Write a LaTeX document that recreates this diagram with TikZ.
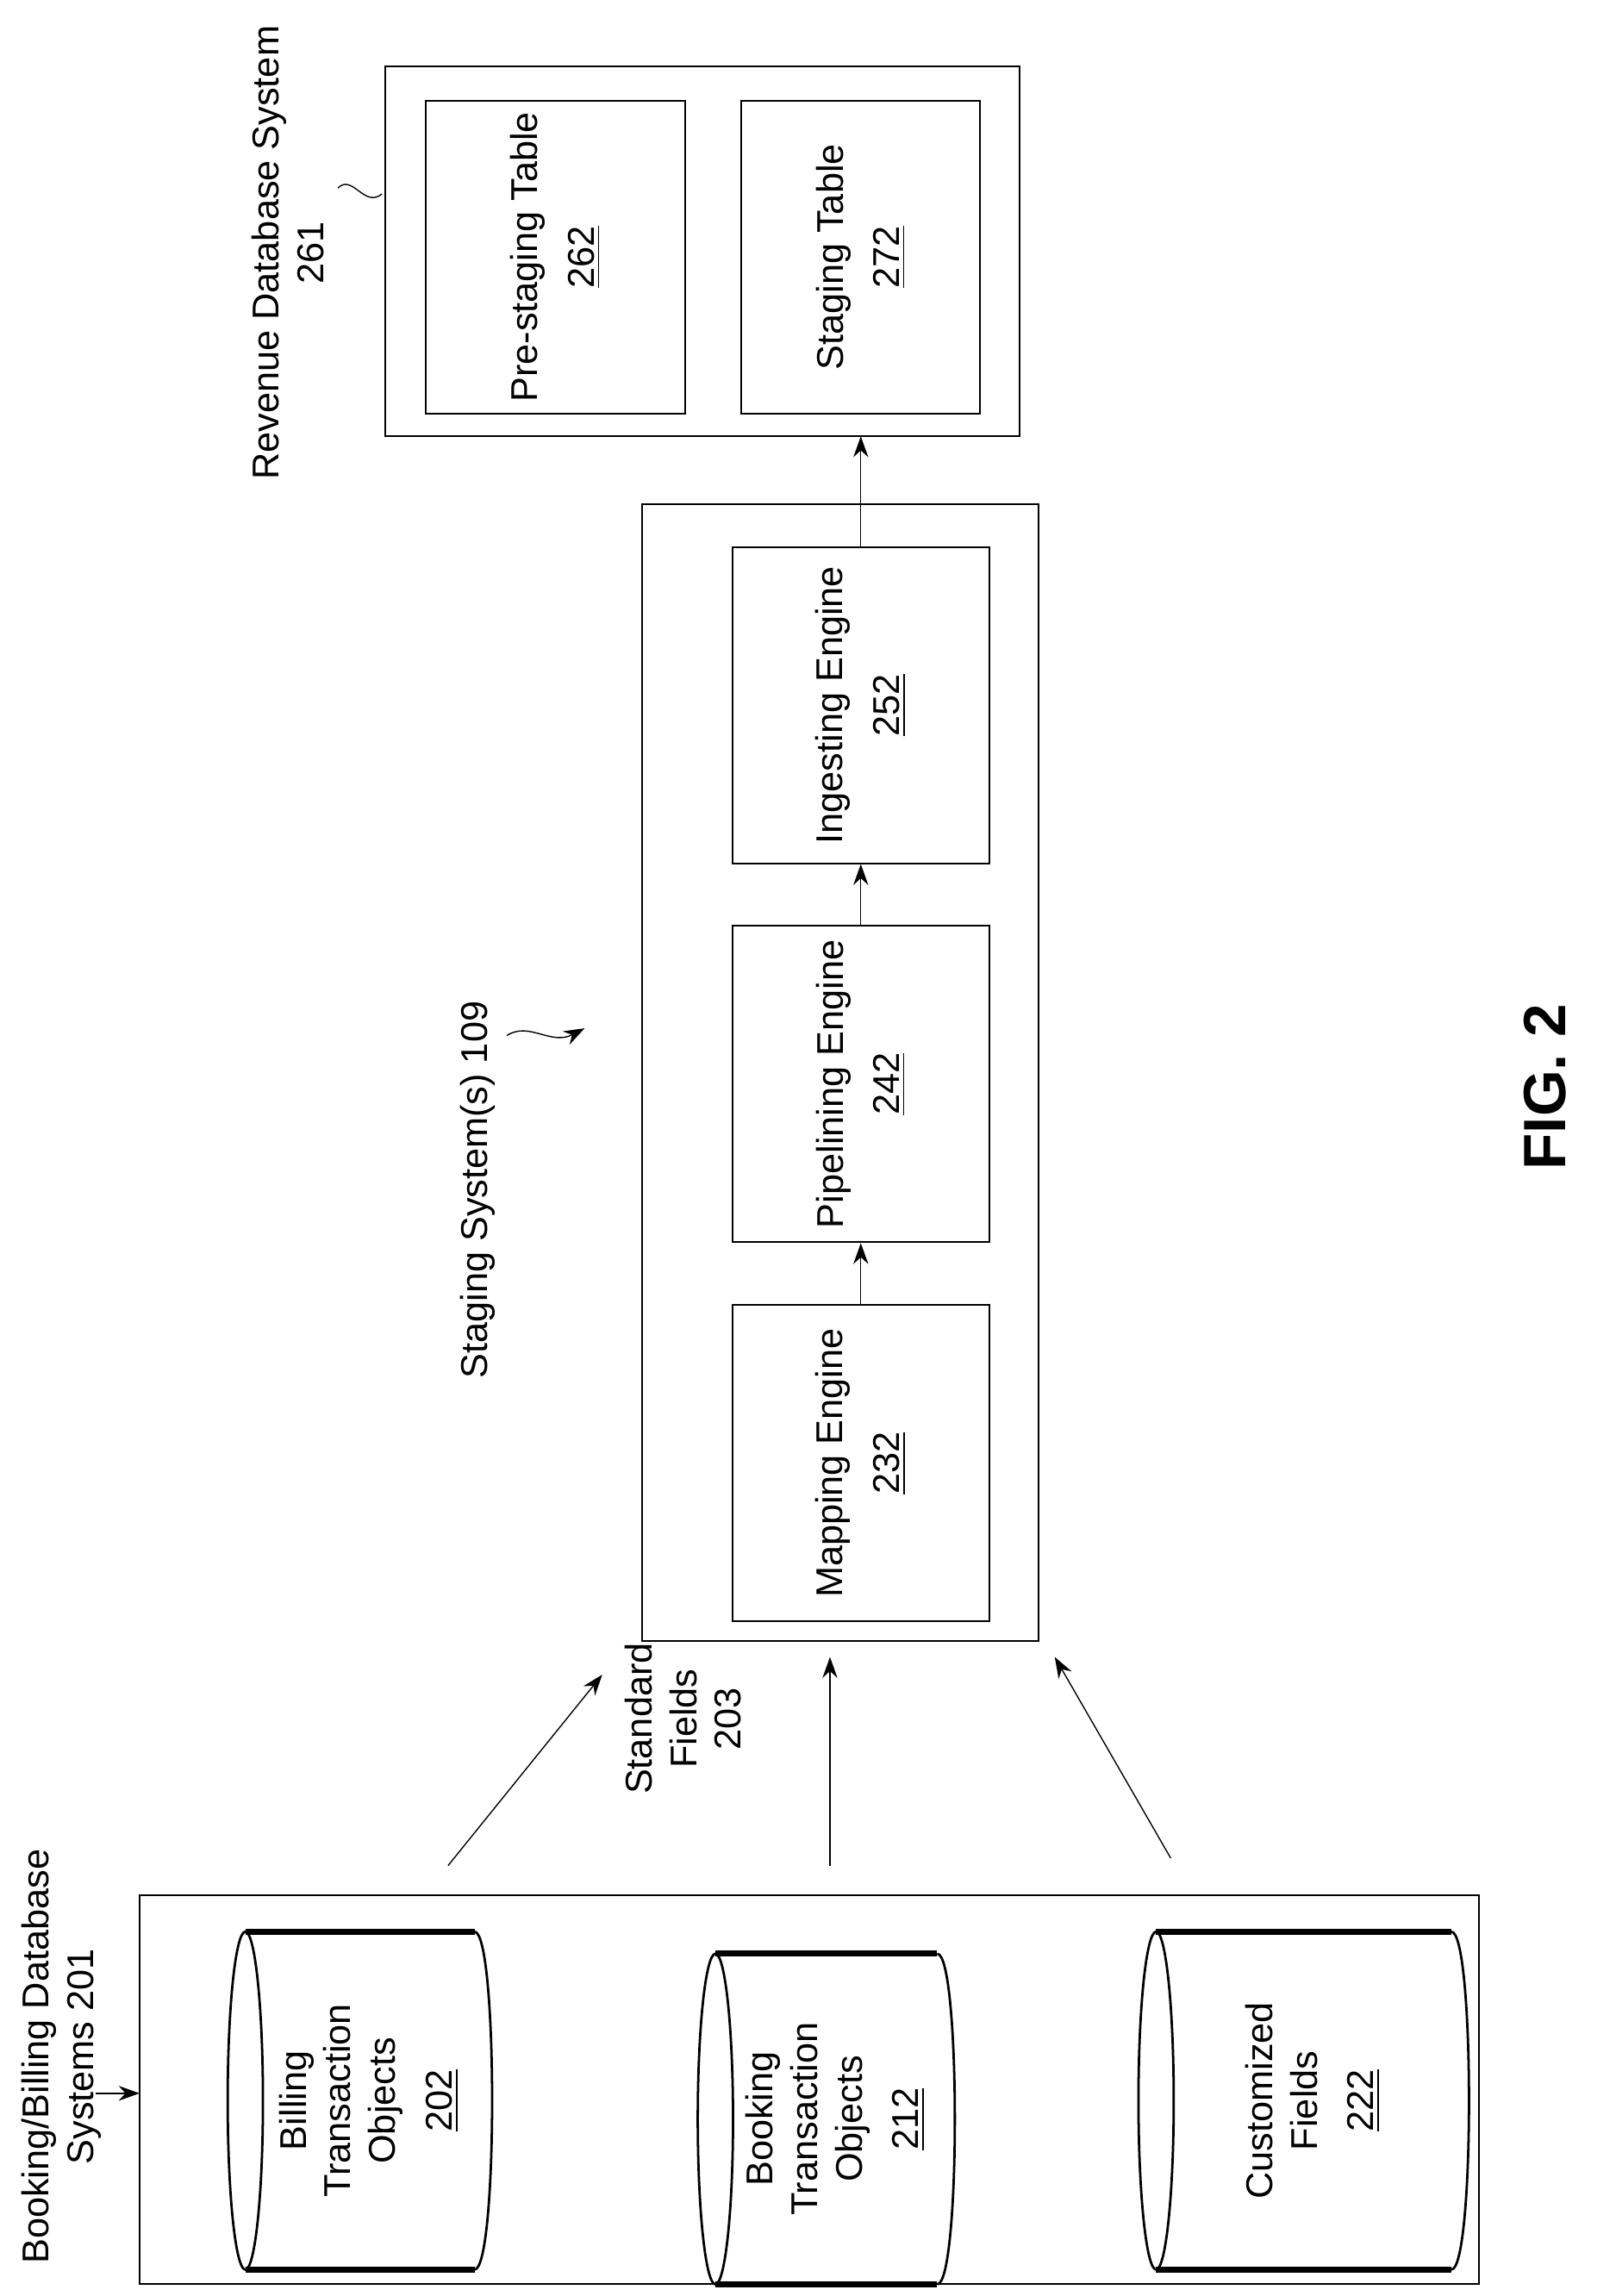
\documentclass[tikz,border=0pt]{standalone}
\usepackage{fontspec}
\setmainfont{Liberation Sans}
\usetikzlibrary{positioning,arrows.meta}

\tikzset{
  blk/.style={draw, semithick, rotate=90, align=center, inner sep=0pt, font=\fontsize{12.5}{15}\selectfont},
  lbl/.style={rotate=90, align=center, font=\fontsize{12.5}{15}\selectfont},
  arr/.style={-{Stealth[length=7pt,width=5pt]}, thin},
}
\newcommand{\cyl}[5]{% name, x0, x1, y0, y1
  \draw[line width=2pt] ({#2+12},#4) -- ({#3-12},#4);
  \draw[line width=2pt] ({#2+12},#5) -- ({#3-12},#5);
  \draw[thick] ({#2+12},{(#4+#5)/2}) ellipse [x radius=12, y radius={(#5-#4)/2}];
  \draw[thick] ({#3-12},#4) .. controls ({#3+4},#4) and ({#3+4},#5) .. ({#3-12},#5);
  \coordinate (#1) at ({(#2+#3)/2+6},{(#4+#5)/2});
}

\begin{document}
\begin{tikzpicture}[x=0.4924pt, y=-0.4924pt]
\useasboundingbox (0,0) rectangle (1100,1563);

% revenue database
\draw[semithick] (262,45) rectangle (694,297);
\node[blk, minimum width=105pt, minimum height=87pt] (pre) at (378,175) {Pre-staging Table\\[4pt]\underline{262}};
\node[blk, minimum width=105pt, minimum height=80pt] (stt) at (586,175) {Staging Table\\[4pt]\underline{272}};
\node[lbl] (rev) at (196,172) {Revenue Database System\\261};
\draw (230,128) .. controls (240,118) and (248,142) .. (260,132);

% staging system
\draw[semithick] (437,343) rectangle (707,1117);
\node[blk, minimum width=106pt, minimum height=86pt] (ing) at (586,480) {Ingesting Engine\\[4pt]\underline{252}};
\node[blk, minimum width=106pt, minimum height=86pt] (pip) at (586,738) {Pipelining Engine\\[4pt]\underline{242}};
\node[blk, minimum width=106pt, minimum height=86pt] (map) at (586,996) {Mapping Engine\\[4pt]\underline{232}};
\node[lbl] (stg) at (325,810) {Staging System(s) 109};
\coordinate (sq0) at (345,705);
\coordinate (sq1) at (398,700);
\draw[arr] (sq0) .. controls (360,695) and (375,712) .. (sq1);
\draw[arr] (map.east) -- (pip.west);
\draw[arr] (pip.east) -- (ing.west);
\draw[arr] (ing.east) -- (586,297);

% booking / billing
\draw[semithick] (95,1290) rectangle (1007,1555);
\node[lbl] (bbs) at (42,1400) {Booking/Billing Database\\Systems 201};
\draw[arr] (65,1425) -- (95,1425);
\cyl{c1}{155}{335}{1315}{1545}
\cyl{c2}{475}{650}{1330}{1555}
\cyl{c3}{775}{1000}{1315}{1545}
\node[lbl] at (c1) {Billing\\Transaction\\Objects\\[4pt]\underline{202}};
\node[lbl] at (c2) {Booking\\Transaction\\Objects\\[4pt]\underline{212}};
\node[lbl] at (c3) {Customized\\Fields\\[4pt]\underline{222}};
\node[lbl] (std) at (465,1170) {Standard\\Fields\\203};
\draw[arr] (305,1270) -- (410,1140);
\draw[arr] (565,1270) -- (565,1128);
\draw[arr] (797,1265) -- (718,1128);

\node[rotate=90, font=\bfseries\fontsize{20}{24}\selectfont] (fig) at (1052,740) {FIG. 2};
\end{tikzpicture}
\end{document}
